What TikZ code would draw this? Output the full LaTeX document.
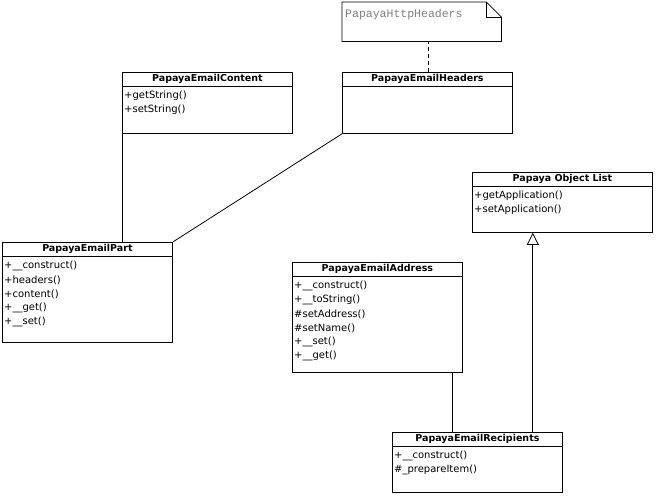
\documentclass[tikz,border=0pt]{standalone}
\usepackage{fontspec}
\setmainfont{DejaVu Sans}
\setmonofont{Liberation Mono}
\usetikzlibrary{arrows.meta,calc}

\tikzset{
  classbox/.style={draw, line width=0.8pt, fill=white, anchor=north west, inner sep=0pt},
  classtitle/.style={font=\fontsize{9.5}{11}\selectfont\bfseries, inner sep=0pt},
  member/.style={font=\fontsize{10}{12}\selectfont, anchor=west, inner sep=0pt},
  notetext/.style={font=\fontsize{11.5}{13}\selectfont\ttfamily, text=gray, anchor=base west, inner sep=0pt},
  link/.style={line width=0.8pt},
}

% класс: имя, x, y, ширина, высота, заголовок, методы
\newcommand{\umlclass}[7]{%
  \node[classbox, minimum width=#4pt, minimum height=#5pt] (#1) at (#2,#3) {};
  \draw[link] (#1.north west) ++(0,14) -- ++(#4,0);
  \node[classtitle] (#1-title) at ([yshift=-7pt]#1.north) {#6};
  \foreach \m [count=\i] in {#7}
    \node[member] (#1-m\i) at ($(#1.north west)+(2,{10+14*\i})$) {\m};
}

\begin{document}
\begin{tikzpicture}[x=1pt, y=-1pt]
  \useasboundingbox (0,0) rectangle (656,496);

  % Заметка
  \node[anchor=north west, minimum width=159pt, minimum height=39pt, inner sep=0pt] (note) at (342,2) {};
  \draw[link] (note.north west) -- ([xshift=-15pt]note.north east) -- ([yshift=-15pt]note.north east)
    -- (note.south east) -- (note.south west) -- cycle;
  \draw[link] ([xshift=-15pt]note.north east) -- ++(0,15) -- ([yshift=-15pt]note.north east);
  \node[notetext] (note-text) at (345,17) {PapayaHttpHeaders};

  % Классы
  \umlclass{content}{122}{72}{170}{61}{PapayaEmailContent}{+getString(), +setString()}
  \umlclass{headers}{342}{72}{170}{61}{PapayaEmailHeaders}{}
  \umlclass{part}{2}{242}{170}{100}{PapayaEmailPart}{+\_\_construct(), +headers(), +content(), +\_\_get(), +\_\_set()}
  \umlclass{objlist}{472}{172}{180}{60}{Papaya Object List}{+getApplication(), +setApplication()}
  \umlclass{address}{292}{262}{170}{110}{PapayaEmailAddress}{+\_\_construct(), +\_\_toString(), \#setAddress(), \#setName(), +\_\_set(), +\_\_get()}
  \umlclass{recipients}{392}{432}{170}{60}{PapayaEmailRecipients}{+\_\_construct(), \#\_prepareItem()}

  % Связи
  \coordinate (h-top) at ([xshift=1pt]headers.north);
  \coordinate (a-bot) at ([xshift=-10pt]address.south east);
  \coordinate (r-top) at ([xshift=-30pt]recipients.north east);
  \draw[link, dash pattern=on 4pt off 3pt] (h-top) -- (h-top |- note.south);
  \draw[link] (content.south west) -- (content.south west |- part.north);
  \draw[link] (headers.south west) -- (part.north east);
  \draw[link] (a-bot) -- (a-bot |- recipients.north);
  \draw[link, -{Triangle[open, length=12pt, width=12pt]}] (r-top) -- (r-top |- objlist.south);
\end{tikzpicture}
\end{document}
